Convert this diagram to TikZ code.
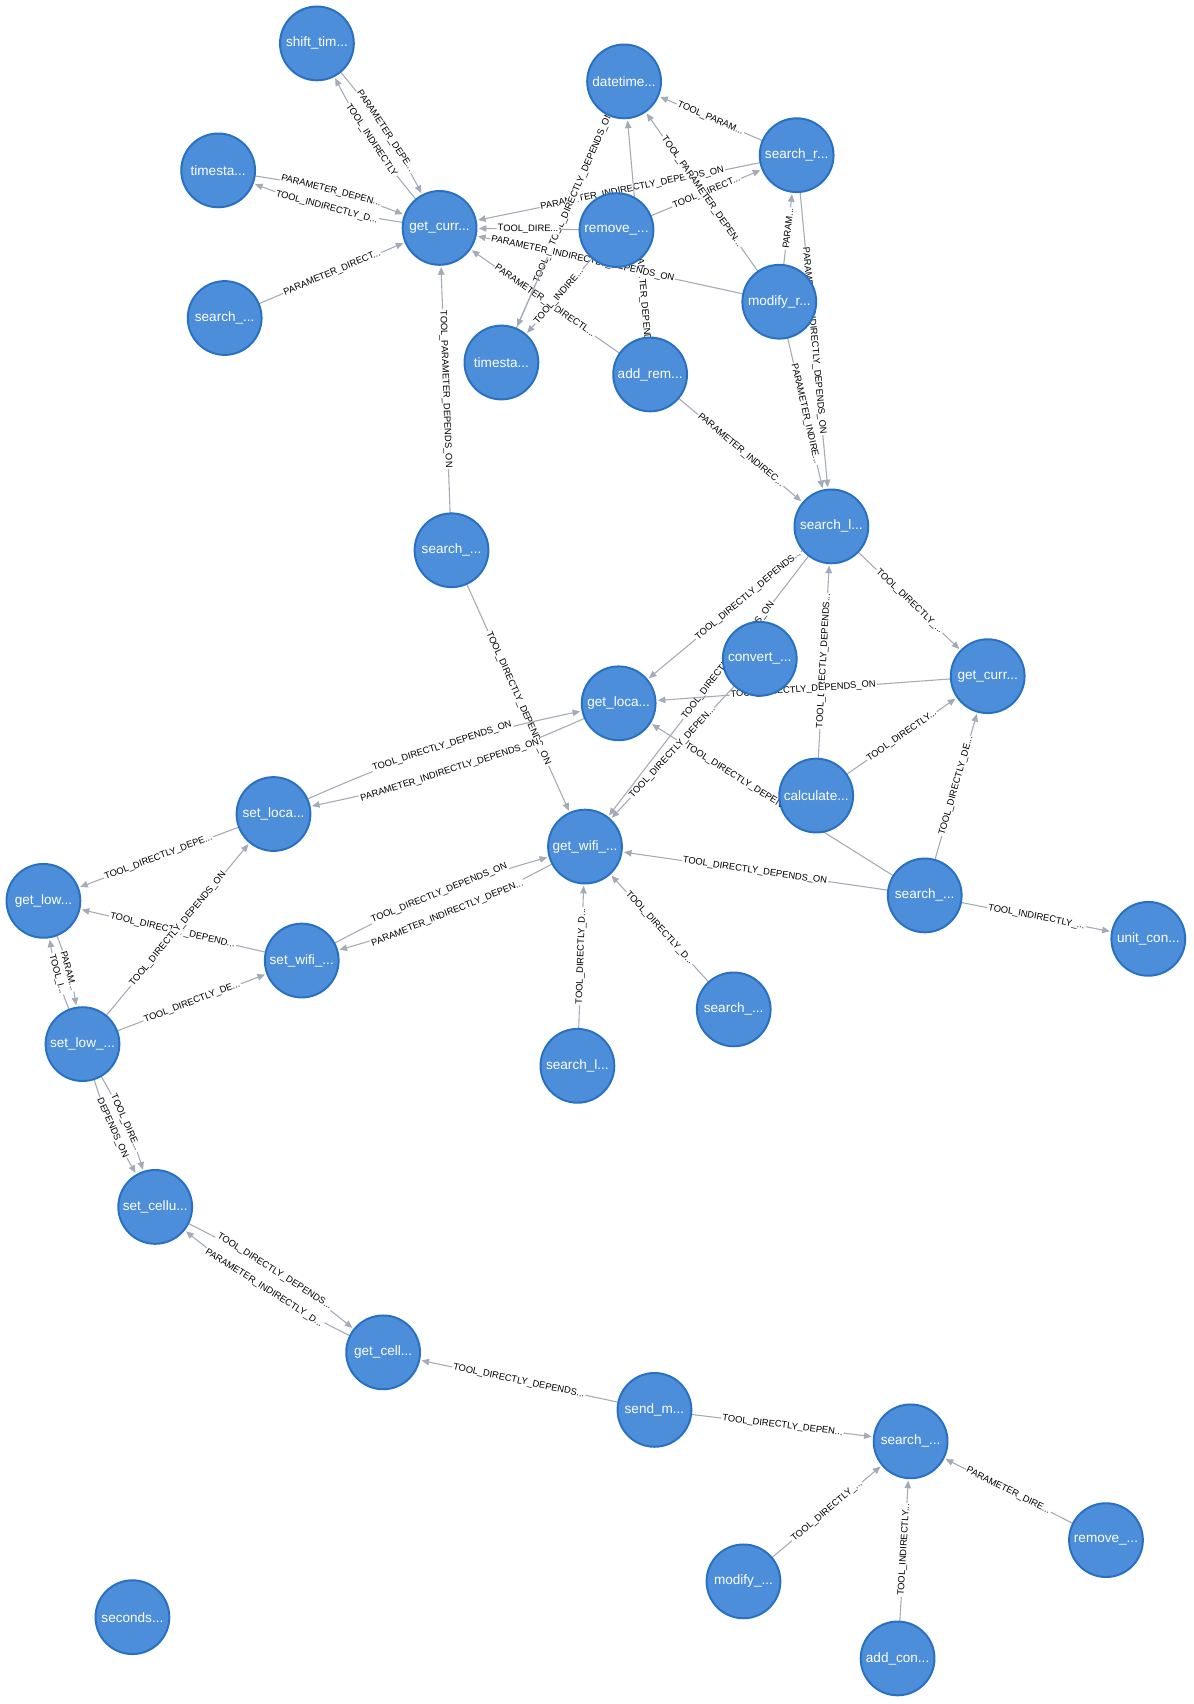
\documentclass[tikz,border=0pt]{standalone}
\usepackage{fontspec}
\setmainfont{Liberation Sans}
\usetikzlibrary{arrows.meta}
\definecolor{nfill}{HTML}{4C8EDA}
\definecolor{nline}{HTML}{2870C2}
\definecolor{eline}{HTML}{A5ABB6}
\newcommand{\allnodes}[1]{%
\node[#1] (shift) at (292,40) {shift\_tim...};
\node[#1] (datetime) at (575,75) {datetime...};
\node[#1] (searchr) at (734,143) {search\_r...};
\node[#1] (timesta1) at (201,157) {timesta...};
\node[#1] (getcurr1) at (405,210) {get\_curr...};
\node[#1] (search1) at (207,293) {search\_...};
\node[#1] (timesta2) at (462,334) {timesta...};
\node[#1] (addrem) at (599,345) {add\_rem...};
\node[#1] (remove1) at (568,212) {remove\_...};
\node[#1] (modifyr) at (718,278) {modify\_r...};
\node[#1] (searchl1) at (766,485) {search\_l...};
\node[#1] (search2) at (416,507) {search\_...};
\node[#1] (getcurr2) at (910,623) {get\_curr...};
\node[#1] (getloca) at (570,648) {get\_loca...};
\node[#1] (convert) at (700,607) {convert\_...};
\node[#1] (calculate) at (752,733) {calculate...};
\node[#1] (setloca) at (252,750) {set\_loca...};
\node[#1] (getwifi) at (539,780) {get\_wifi\_...};
\node[#1] (getlow) at (40,830) {get\_low...};
\node[#1] (search3) at (852,825) {search\_...};
\node[#1] (unitcon) at (1058,865) {unit\_con...};
\node[#1] (setwifi) at (278,885) {set\_wifi\_...};
\node[#1] (search4) at (676,930) {search\_...};
\node[#1] (setlow) at (76,962) {set\_low\_...};
\node[#1] (searchl2) at (532,982) {search\_l...};
\node[#1] (setcellu) at (143,1112) {set\_cellu...};
\node[#1] (getcell) at (353,1246) {get\_cell...};
\node[#1] (sendm) at (603,1299) {send\_m...};
\node[#1] (search5) at (839,1328) {search\_...};
\node[#1] (remove2) at (1019,1419) {remove\_...};
\node[#1] (modify2) at (685,1457) {modify\_...};
\node[#1] (seconds) at (122,1490) {seconds...};
\node[#1] (addcon) at (827,1528) {add\_con...};}
\begin{document}
\begin{tikzpicture}[x=1pt,y=-1pt,
  base/.style={circle,minimum size=68pt,inner sep=0pt,font=\fontsize{12.5}{13}\selectfont},
  ghost/.style={base,draw=none,execute at begin node={\setbox0\hbox\bgroup},execute at end node={\egroup}},
  nd/.style={base,fill=nfill,draw=nline,line width=1.8pt,text=white},
  edge/.style={draw=eline,line width=1pt,-{Triangle[length=7pt,width=6pt]},shorten >=2pt},
  lab/.style={fill=white,inner sep=1pt,sloped,font=\fontsize{8.6}{9}\selectfont,text=black},
  bl/.style={bend left=6}, br/.style={bend right=6}]
\useasboundingbox (0,0) rectangle (1100,1570);
\allnodes{ghost}
\draw[edge,bl] (getcurr1) to node[lab]{TOOL\_INDIRECTLY} (shift);
\draw[edge,bl] (shift) to node[lab]{PARAMETER\_DEPE...} (getcurr1);
\draw[edge,bl] (timesta1) to node[lab]{PARAMETER\_DEPEN...} (getcurr1);
\draw[edge,bl] (getcurr1) to node[lab]{TOOL\_INDIRECTLY\_D...} (timesta1);
\draw[edge] (search1) -- node[lab]{PARAMETER\_DIRECT...} (getcurr1);
\draw[edge] (search2) -- node[lab]{TOOL\_PARAMETER\_DEPENDS\_ON} (getcurr1);
\draw[edge] (addrem) -- node[lab]{PARAMETER\_INDIRECTL...} (getcurr1);
\draw[edge] (searchr) -- node[lab,pos=0.45]{PARAMETER\_INDIRECTLY\_DEPENDS\_ON} (getcurr1);
\draw[edge] (timesta2) -- node[lab,pos=0.55]{TOOL\_INDIRECTLY\_DEPENDS\_ON} (datetime);
\draw[edge] (datetime) -- node[lab,pos=0.3]{TOOL\_DIRECTLY\_DEPENDS\_ON} (timesta2);
\draw[edge] (addrem) -- node[lab,pos=0.25]{TOOL\_PARAMETER\_DEPENDS...} (datetime);
\draw[edge] (searchr) -- node[lab]{TOOL\_PARAM...} (datetime);
\draw[edge] (modifyr) -- node[lab,pos=0.6]{PARAMETER\_INDIRECTLY\_DEPENDS\_ON} (getcurr1);
\draw[edge] (remove1) -- node[lab]{TOOL\_DIRE...} (getcurr1);
\draw[edge] (remove1) -- node[lab]{TOOL\_DIRECT...} (searchr);
\draw[edge] (remove1) -- node[lab]{TOOL\_INDIRE...} (timesta2);
\draw[edge] (modifyr) -- node[lab]{TOOL\_PARAMETER\_DEPEN...} (datetime);
\draw[edge] (modifyr) -- node[lab]{PARAM...} (searchr);
\draw[edge] (searchr) -- node[lab]{PARAMETER\_INDIRECTLY\_DEPENDS\_ON} (searchl1);
\draw[edge] (modifyr) -- node[lab]{PARAMETER\_INDIRE...} (searchl1);
\draw[edge] (addrem) -- node[lab]{PARAMETER\_INDIREC...} (searchl1);
\draw[edge] (searchl1) -- node[lab,pos=0.35]{TOOL\_DIRECTLY\_DEPENDS...} (getloca);
\draw[edge] (searchl1) -- node[lab,pos=0.4]{TOOL\_DIRECTLY\_DEPENDS\_ON} (getwifi);
\draw[edge] (calculate) -- node[lab]{TOOL\_DIRECTLY\_DEPENDS...} (searchl1);
\draw[edge] (searchl1) -- node[lab]{TOOL\_DIRECTLY\_...} (getcurr2);
\draw[edge] (getcurr2) -- node[lab]{TOOL\_DIRECTLY\_DEPENDS\_ON} (getloca);
\draw[edge] (calculate) -- node[lab]{TOOL\_DIRECTLY...} (getcurr2);
\draw[edge] (search3) -- node[lab]{TOOL\_DIRECTLY\_DE...} (getcurr2);
\draw[edge] (search3) -- node[lab,pos=0.6]{TOOL\_DIRECTLY\_DEPENDS\_ON} (getloca);
\draw[edge] (convert) -- node[lab]{TOOL\_DIRECTLY\_DEPEN...} (getwifi);
\draw[edge] (search2) -- node[lab]{TOOL\_DIRECTLY\_DEPENDS\_ON} (getwifi);
\draw[edge,bl] (setloca) to node[lab]{TOOL\_DIRECTLY\_DEPENDS\_ON} (getloca);
\draw[edge,bl] (getloca) to node[lab]{PARAMETER\_INDIRECTLY\_DEPENDS\_ON} (setloca);
\draw[edge] (search3) -- node[lab]{TOOL\_DIRECTLY\_DEPENDS\_ON} (getwifi);
\draw[edge] (search3) -- node[lab]{TOOL\_INDIRECTLY\_...} (unitcon);
\draw[edge,bl] (setwifi) to node[lab]{TOOL\_DIRECTLY\_DEPENDS\_ON} (getwifi);
\draw[edge,bl] (getwifi) to node[lab]{PARAMETER\_INDIRECTLY\_DEPEN...} (setwifi);
\draw[edge] (searchl2) -- node[lab]{TOOL\_DIRECTLY\_D...} (getwifi);
\draw[edge] (search4) -- node[lab]{TOOL\_DIRECTLY\_D...} (getwifi);
\draw[edge] (setloca) -- node[lab]{TOOL\_DIRECTLY\_DEPE...} (getlow);
\draw[edge] (setwifi) -- node[lab]{TOOL\_DIRECTLY\_DEPEND...} (getlow);
\draw[edge] (setlow) -- node[lab]{TOOL\_DIRECTLY\_DEPENDS\_ON} (setloca);
\draw[edge] (setlow) -- node[lab]{TOOL\_DIRECTLY\_DE...} (setwifi);
\draw[edge,bl] (setlow) to node[lab]{TOOL\_I...} (getlow);
\draw[edge,bl] (getlow) to node[lab]{PARAM...} (setlow);
\draw[edge,bl] (setlow) to node[lab]{TOOL\_DIRE...} (setcellu);
\draw[edge,br] (setlow) to node[lab]{DEPENDS\_ON} (setcellu);
\draw[edge,bl] (setcellu) to node[lab]{TOOL\_DIRECTLY\_DEPENDS...} (getcell);
\draw[edge,bl] (getcell) to node[lab]{PARAMETER\_INDIRECTLY\_D...} (setcellu);
\draw[edge] (sendm) -- node[lab]{TOOL\_DIRECTLY\_DEPENDS...} (getcell);
\draw[edge] (sendm) -- node[lab]{TOOL\_DIRECTLY\_DEPEN...} (search5);
\draw[edge] (modify2) -- node[lab]{TOOL\_DIRECTLY\_...} (search5);
\draw[edge] (addcon) -- node[lab]{TOOL\_INDIRECTLY...} (search5);
\draw[edge] (remove2) -- node[lab]{PARAMETER\_DIRE...} (search5);
\begin{scope}[name prefix=v-]
\allnodes{nd}
\end{scope}
\end{tikzpicture}
\end{document}
